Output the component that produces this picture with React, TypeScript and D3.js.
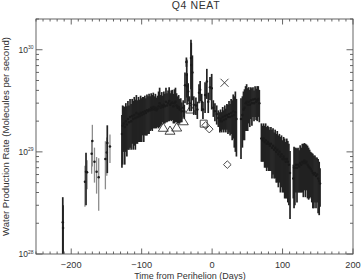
import React, { useEffect, useRef } from "react";
import * as d3 from "d3";

// time from perihelion (days), water production rate and 1-sigma error, in units of 1e29 molecules/s
const UNIT = 1e29;

// sparse pre-perihelion observations (grey points)
const earlyObs: [number, number, number][] = [
  [-180.5, 0.51, 0.22],
  [-177.5, 0.63, 0.2],
  [-171, 0.96, 0.35],
  [-170, 1.28, 0.56],
  [-167, 0.8, 0.3],
  [-164, 0.64, 0.25],
  [-161, 0.565, 0.3],
  [-151.5, 0.85, 0.42],
  [-149.5, 0.985, 0.4],
  [-145, 1.13, 0.35],
];

// main dense data set (dark points)
const mainObs: [number, number, number][] = [
  [-212, 0.205, 0.155], [-211.6, 0.18, 0.12],
  [-179, 0.64, 0.34], [-148.8, 1.22, 0.6],
  // -128 .. -43
  [-128, 1.5, 0.8], [-127, 1.8, 1.05], [-125.5, 1.9, 0.9], [-124, 1.75, 1.0],
  [-122.5, 2.0, 1.0], [-121, 1.85, 0.95], [-119.5, 2.1, 1.05], [-118, 1.95, 0.9],
  [-116.5, 2.2, 1.1], [-115, 2.0, 0.95], [-113.5, 2.25, 1.05], [-112, 2.1, 1.05],
  [-110.5, 2.3, 1.15], [-109, 2.15, 1.1], [-107.5, 2.4, 1.2], [-106, 2.2, 1.0],
  [-104.5, 2.35, 1.1], [-103, 2.25, 1.0], [-101.5, 2.4, 1.15], [-100, 2.3, 1.05],
  [-98.5, 2.45, 1.0], [-97, 2.35, 1.1], [-95.5, 2.5, 1.05], [-94, 2.4, 0.95],
  [-92.5, 2.55, 1.1], [-91, 2.5, 1.0], [-89.5, 2.6, 1.1], [-88, 2.55, 0.95],
  [-86.5, 2.7, 1.05], [-85, 2.6, 1.0], [-83.5, 2.75, 1.05], [-82, 2.6, 0.9],
  [-80.5, 2.7, 1.0], [-79, 2.55, 0.85], [-77.5, 2.65, 0.9], [-76, 2.8, 1.1],
  [-74.5, 3.0, 1.25], [-73, 2.7, 0.9], [-71.5, 2.85, 1.0], [-70, 2.75, 0.8],
  [-68.5, 2.9, 1.0], [-67, 2.8, 0.9], [-65.5, 3.1, 1.15], [-64, 2.85, 0.9],
  [-62.5, 3.0, 1.0], [-61, 3.15, 1.15], [-59.5, 2.9, 0.85], [-58, 3.0, 1.0],
  [-56.5, 3.05, 1.0], [-55, 2.8, 0.9], [-53.5, 3.0, 1.1], [-52, 3.1, 1.15],
  [-50.5, 2.85, 0.9], [-49, 2.7, 0.8], [-47.5, 2.75, 0.85], [-46, 2.6, 0.7],
  [-44.5, 2.65, 0.7], [-43, 2.5, 0.55],
  // near perihelion
  [-41, 2.7, 0.5], [-39.5, 2.5, 0.4], [-38.5, 4.5, 1.5], [-36.5, 7.6, 0.8],
  [-36, 5.7, 2.3], [-35.5, 4.4, 1.5], [-34, 3.9, 0.8], [-32, 3.0, 0.5],
  [-30, 8.3, 4.2], [-29.6, 7.1, 4.6], [-28, 6.0, 2.8], [-26, 2.9, 0.6],
  [-23, 2.85, 0.55], [-21, 2.6, 0.5], [-18.6, 3.8, 0.8], [-17, 4.05, 0.9],
  [-14.8, 3.1, 0.6], [-13, 2.6, 0.5], [-10, 3.6, 1.2], [-7.5, 4.9, 1.6],
  [-5.5, 3.1, 0.7], [-3, 4.3, 1.1], [-0.6, 4.2, 1.6], [1.7, 2.7, 0.5],
  [4, 2.5, 0.5], [6.5, 2.35, 0.5], [8.8, 2.15, 0.4], [11, 2.0, 0.45],
  // 12 .. 35
  [12, 2.1, 0.5], [13.5, 2.0, 0.45], [15, 2.2, 0.55], [16.5, 2.05, 0.5],
  [18, 2.25, 0.6], [19.5, 2.1, 0.55], [21, 2.3, 0.65], [22.5, 2.2, 0.7],
  [24, 2.35, 0.8], [25.5, 2.2, 0.75], [27, 2.4, 0.9], [28.5, 2.25, 0.95],
  [30, 2.5, 1.15], [31.5, 2.3, 1.2], [33, 2.45, 1.45], [34.5, 2.1, 1.2],
  // 41 .. 67
  [41, 2.1, 1.25], [43, 2.3, 1.2], [44.5, 2.6, 1.3], [46, 2.7, 1.4],
  [47.5, 3.0, 1.4], [49, 3.1, 1.5], [50.5, 2.9, 1.3], [52, 3.1, 1.2],
  [53.5, 2.9, 1.15], [55, 3.2, 1.1], [56.5, 3.0, 1.2], [58, 3.25, 1.05],
  [59.5, 3.0, 1.0], [61, 3.3, 1.1], [62.5, 3.1, 1.05], [64, 3.2, 1.2],
  [65.5, 3.3, 1.1], [67, 3.0, 1.05],
  // 70 .. 111
  [70, 1.35, 0.55], [71.5, 1.3, 0.5], [73, 1.35, 0.55], [74.5, 1.25, 0.55],
  [76, 1.3, 0.6], [77.5, 1.2, 0.55], [79, 1.25, 0.55], [80.5, 1.2, 0.55],
  [82, 1.15, 0.5], [83.5, 1.2, 0.55], [85, 1.1, 0.55], [86.5, 1.15, 0.55],
  [88, 1.05, 0.5], [89.5, 1.1, 0.55], [91, 1.0, 0.5], [92.5, 1.05, 0.55],
  [94, 0.95, 0.5], [95.5, 1.0, 0.5], [97, 0.9, 0.5], [98.5, 0.95, 0.5],
  [100, 0.85, 0.45], [101.5, 0.9, 0.5], [103, 0.85, 0.5], [104.5, 0.8, 0.45],
  [106, 0.85, 0.5], [107.5, 0.8, 0.48], [109, 0.75, 0.45], [110.6, 0.62, 0.4],
  [115.3, 0.55, 0.2], [116.3, 0.7, 0.42],
  // 117 .. 153
  [117.5, 0.7, 0.4], [119, 0.75, 0.35], [120.5, 0.7, 0.38], [122, 0.75, 0.35],
  [123.5, 0.72, 0.32], [125, 0.78, 0.38], [126.5, 0.75, 0.35], [128, 0.8, 0.4],
  [129.5, 0.78, 0.42], [131, 0.82, 0.4], [132.5, 0.78, 0.42], [134, 0.8, 0.38],
  [135.5, 0.75, 0.4], [137, 0.72, 0.38], [138.5, 0.7, 0.35], [140, 0.68, 0.32],
  [141.5, 0.65, 0.33], [143, 0.62, 0.34], [144.5, 0.6, 0.32], [146, 0.62, 0.3],
  [147.5, 0.58, 0.3], [149, 0.6, 0.28], [150.5, 0.55, 0.3], [152, 0.52, 0.28],
  [153.2, 0.49, 0.2],
];

// other observers
const triangleObs: [number, number][] = [[-69.3, 1.71], [-59.8, 1.6], [-50.3, 1.72], [-40.9, 1.98], [-30.4, 2.58]];
const squareObs: [number, number][] = [[-11.9, 1.89]];
const diamondObs: [number, number][] = [[-9.1, 1.82], [-4, 1.67], [21.6, 0.75]];
const crossObs: [number, number][] = [[17.6, 4.75]];

const xTicks = [-200, -100, 0, 100, 200];
const yDecades = [28, 29, 30];

const W = 363;
const H = 280;
const FONT = "'Liberation Sans', Arial, sans-serif";
const INK = "#333";

export default function App() {
  const svgRef = useRef<SVGSVGElement>(null);

  useEffect(() => {
    const svg = d3.select(svgRef.current);
    svg.selectAll("*").remove();

    const dims = { left: 36, right: 353, top: 19, bottom: 254 };

    const x = d3.scaleLinear().domain([-250, 200]).range([dims.left, dims.right]);
    const y = d3.scaleLog().domain([1e28, 2e30]).range([dims.bottom, dims.top]);

    svg.append("defs").append("clipPath").attr("id", "plot-clip")
      .append("rect")
      .attr("x", dims.left).attr("y", dims.top)
      .attr("width", dims.right - dims.left).attr("height", dims.bottom - dims.top);

    /** open markers of the other observers, under the bars */
    const markers = svg.append("g")
      .attr("fill", "none").attr("stroke", INK).attr("stroke-width", 0.9);
    markers.selectAll("path.tri").data(triangleObs).join("path")
      .attr("class", "tri")
      .attr("transform", d => `translate(${x(d[0])},${y(d[1] * UNIT)})`)
      .attr("d", "M0,-5L5,3.2L-5,3.2Z");
    markers.selectAll("path.sq").data(squareObs).join("path")
      .attr("class", "sq")
      .attr("transform", d => `translate(${x(d[0])},${y(d[1] * UNIT)})`)
      .attr("d", "M-3.5,-3.5H3.5V3.5H-3.5Z");
    markers.selectAll("path.dia").data(diamondObs).join("path")
      .attr("class", "dia")
      .attr("transform", d => `translate(${x(d[0])},${y(d[1] * UNIT)})`)
      .attr("d", "M0,-3.8L3.8,0L0,3.8L-3.8,0Z");
    markers.selectAll("path.cross").data(crossObs).join("path")
      .attr("class", "cross")
      .attr("transform", d => `translate(${x(d[0])},${y(d[1] * UNIT)})`)
      .attr("d", "M-4,-4L4,4M4,-4L-4,4");

    /** error bars + points */
    const plot = svg.append("g").attr("clip-path", "url(#plot-clip)");
    const drawSeries = (data: [number, number, number][], color: string, width: number) => {
      const g = plot.append("g");
      g.selectAll("line").data(data).join("line")
        .attr("x1", d => x(d[0])).attr("x2", d => x(d[0]))
        .attr("y1", d => y(Math.max(d[1] - d[2], 0.05) * UNIT))
        .attr("y2", d => y((d[1] + d[2]) * UNIT))
        .attr("stroke", color).attr("stroke-width", width);
      g.selectAll("circle").data(data).join("circle")
        .attr("cx", d => x(d[0])).attr("cy", d => y(d[1] * UNIT))
        .attr("r", 1.25).attr("fill", "#1a1a1a");
    };
    drawSeries(earlyObs, "#8c8c8c", 1.3);
    drawSeries(mainObs, "#222", 1.7);

    /** frame and ticks */
    const axes = svg.append("g").attr("stroke", "#555").attr("stroke-width", 0.9);
    axes.append("rect")
      .attr("x", dims.left).attr("y", dims.top)
      .attr("width", dims.right - dims.left).attr("height", dims.bottom - dims.top)
      .attr("fill", "none");

    d3.range(-250, 201, 10).forEach(t => {
      const len = xTicks.includes(t) ? 5.5 : 2.5;
      axes.append("line").attr("x1", x(t)).attr("x2", x(t))
        .attr("y1", dims.bottom).attr("y2", dims.bottom - len);
      axes.append("line").attr("x1", x(t)).attr("x2", x(t))
        .attr("y1", dims.top).attr("y2", dims.top + len);
    });

    yDecades.forEach(dec => {
      d3.range(1, 10).forEach(m => {
        const v = m * Math.pow(10, dec);
        if (v > 2e30) return;
        const len = m === 1 ? 6.5 : 3;
        axes.append("line").attr("x1", dims.left).attr("x2", dims.left + len)
          .attr("y1", y(v)).attr("y2", y(v));
        axes.append("line").attr("x1", dims.right).attr("x2", dims.right - len)
          .attr("y1", y(v)).attr("y2", y(v));
      });
    });

    /** tick labels */
    const labels = svg.append("g").attr("fill", INK).attr("font-family", FONT);
    labels.selectAll("text.xtick").data(xTicks).join("text")
      .attr("class", "xtick")
      .attr("x", d => x(d)).attr("y", 268)
      .attr("text-anchor", "middle").attr("font-size", 9.2)
      .text(d => (d < 0 ? "\u2212" + Math.abs(d) : String(d)));

    const yt = labels.selectAll("text.ytick").data(yDecades).join("text")
      .attr("class", "ytick")
      .attr("x", 33.5).attr("y", d => y(Math.pow(10, d)) + 3)
      .attr("text-anchor", "end").attr("font-size", 8.5);
    yt.append("tspan").text("10");
    yt.append("tspan").attr("dy", -3.5).attr("font-size", 5).text(d => String(d));

    /** titles */
    labels.append("text")
      .attr("x", 196).attr("y", 9)
      .attr("text-anchor", "middle").attr("font-size", 10.5).attr("letter-spacing", 0.6)
      .text("Q4 NEAT");
    labels.append("text")
      .attr("x", 190).attr("y", 278.5)
      .attr("text-anchor", "middle").attr("font-size", 9)
      .text("Time from Perihelion (Days)");
    labels.append("text")
      .attr("transform", "translate(8.5,136.5) rotate(-90)")
      .attr("text-anchor", "middle").attr("font-size", 9.6)
      .text("Water Production Rate (Molecules per second)");
  }, []);

  return (
    <div style={{ position: "fixed", left: 0, top: 0, width: W, height: H, background: "#fff" }}>
      <svg ref={svgRef} width={W} height={H} style={{ display: "block" }} />
    </div>
  );
}
